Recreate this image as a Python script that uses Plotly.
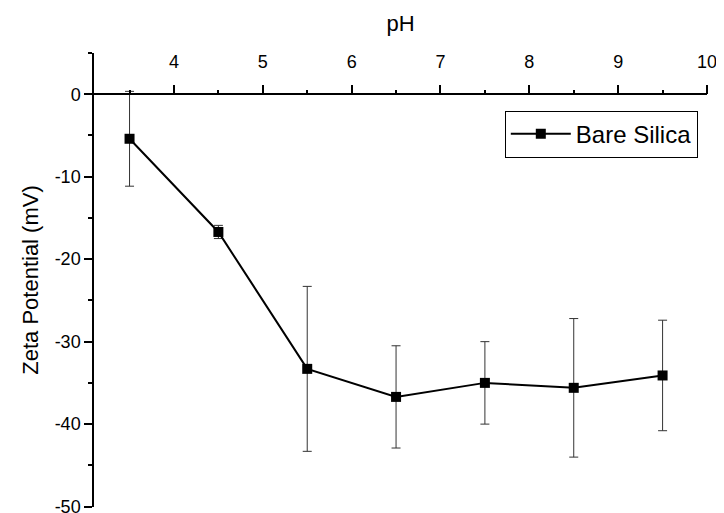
import plotly.graph_objects as go

ph = [3.5, 4.5, 5.5, 6.5, 7.5, 8.5, 9.5]
zeta = [-5.4, -16.7, -33.3, -36.7, -35.0, -35.6, -34.1]
zeta_err = [5.75, 0.8, 10.0, 6.2, 5.0, 8.4, 6.7]

y_tick_vals = [-50, -40, -30, -20, -10, 0]
y_tick_labels = ["-50", "-40", "-30", "-20", "-10", "0"]

FONT = "Liberation Sans, Arial, sans-serif"

fig = go.Figure()
fig.add_trace(go.Scatter(
    x=ph, y=zeta, mode="lines+markers", name="Bare Silica",
    line=dict(color="black", width=2),
    marker=dict(symbol="square", size=10, color="black"),
    error_y=dict(type="data", array=zeta_err, visible=True,
                 color="#333333", thickness=1, width=4.5),
))

# page body has an 8px margin, so the figure is sized/placed to compensate
fig.update_layout(
    width=716, height=505,
    margin=dict(l=86, r=17, t=45, b=6, autoexpand=False),
    paper_bgcolor="white", plot_bgcolor="white",
    font=dict(family=FONT, size=18, color="black"),
    showlegend=True,
    legend=dict(x=0.985, xanchor="right", y=0.873, yanchor="top",
                bordercolor="black", borderwidth=1, bgcolor="white",
                font=dict(size=24, family=FONT), itemwidth=60,
                tracegroupgap=0),
    xaxis=dict(
        range=[3.1, 10], dtick=1, tick0=0, side="top",
        anchor="free", position=50/55, automargin=False,
        showline=True, linecolor="black", linewidth=1.5,
        ticks="outside", ticklen=9, tickwidth=1.5, tickcolor="black",
        minor=dict(dtick=0.5, ticks="outside", ticklen=4, tickwidth=1.5, tickcolor="black"),
        showgrid=False, zeroline=False, ticklabelstandoff=9,
        ticklabeloverflow="allow",
        title=dict(text="pH", font=dict(size=22, family=FONT), standoff=14),
        tickfont=dict(size=18, family=FONT),
    ),
    yaxis=dict(
        range=[-50.05, 5], tickmode="array", tickvals=y_tick_vals, ticktext=y_tick_labels,
        automargin=False,
        showline=True, linecolor="black", linewidth=1.5,
        ticks="outside", ticklen=8, tickwidth=1.5, tickcolor="black",
        minor=dict(tick0=0, dtick=5, ticks="outside", ticklen=4, tickwidth=1.5, tickcolor="black"),
        showgrid=False, zeroline=False, ticklabeloverflow="allow",
        title=dict(text="Zeta Potential (mV)", font=dict(size=22, family=FONT), standoff=10),
        tickfont=dict(size=18, family=FONT),
    ),
)

fig.write_html("out.html")
